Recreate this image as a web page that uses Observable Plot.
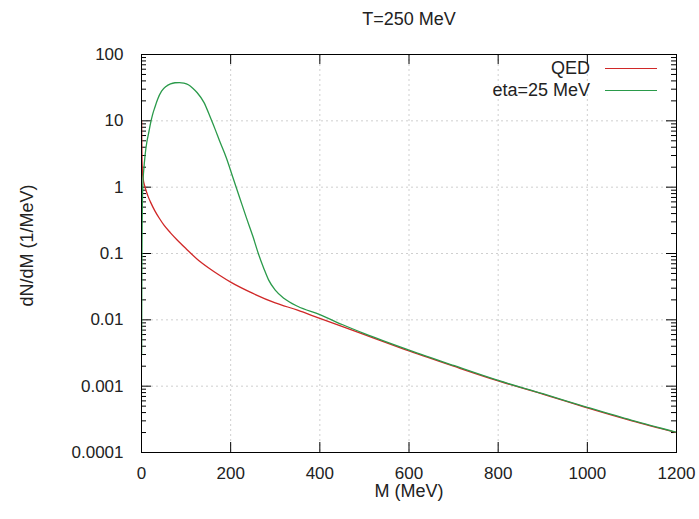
<!DOCTYPE html>
<html>
<head>
<meta charset="utf-8">
<script src="https://cdn.jsdelivr.net/npm/d3@7"></script>
<script src="https://cdn.jsdelivr.net/npm/@observablehq/plot@0.6"></script>
<style>
  html, body { margin: 0; padding: 0; background: #fff; }
  #wrap { position: relative; width: 699px; height: 519px; font-family: "Liberation Sans", Arial, sans-serif; color: #222; }
  #legend { position: absolute; left: 440px; top: 57px; width: 230px; font-size: 18px; }
  .row { position: absolute; left: 0; width: 230px; height: 22px; }
  .row span { position: absolute; right: 80px; top: 0; line-height: 22px; white-space: nowrap; }
  .row i { position: absolute; left: 165px; top: 11px; width: 52px; height: 0; border-top: 1.3px solid; }
</style>
</head>
<body>
<div id="wrap"></div>
<script>
const title = "T=250 MeV";
const xLabel = "M (MeV)";
const yLabel = "dN/dM (1/MeV)";
const seriesNames = ["QED", "eta=25 MeV"];
const seriesColors = ["#d02828", "#2a9a4a"];

const xTicks = [0, 200, 400, 600, 800, 1000, 1200];
const yTicks = [0.0001, 0.001, 0.01, 0.1, 1, 10, 100];
const yTickLabels = ["0.0001", "0.001", "0.01", "0.1", "1", "10", "100"];

// QED curve
const qedM = [0.3, 0.6, 1, 2, 4, 7, 10, 15, 20, 30, 40, 50, 65, 80, 100, 125, 150, 175, 200, 250, 300, 350, 400, 500, 600, 700, 800, 900, 1000, 1100, 1200];
const qedV = [10, 5, 3, 1.8, 1.3, 1.05, 0.9, 0.72, 0.6, 0.44, 0.34, 0.27, 0.205, 0.16, 0.118, 0.082, 0.061, 0.047, 0.037, 0.025, 0.018, 0.014, 0.0105, 0.006, 0.0034, 0.002, 0.0012, 0.00076, 0.00047, 0.0003, 0.0002];

// eta = 25 MeV curve
const etaM = [0.3, 0.6, 1, 1.5, 2, 3, 5, 8, 12, 16, 20, 25, 30, 36, 45, 55, 65, 75, 85, 95, 105, 115, 125, 140, 155, 165, 175, 190, 205, 220, 235, 250, 262, 275, 285, 300, 320, 350, 400, 450, 500, 600, 700, 800, 900, 1000, 1100, 1200];
const etaV = [0.003, 0.02, 0.1, 0.3, 0.6, 1.1, 1.8, 3, 4.8, 6.5, 9, 12.5, 16, 21, 28, 33, 36, 37.5, 37.8, 37, 35, 31, 26.5, 19, 11, 7.5, 5, 2.8, 1.4, 0.7, 0.35, 0.18, 0.1, 0.058, 0.04, 0.028, 0.021, 0.016, 0.012, 0.0085, 0.0062, 0.0035, 0.00205, 0.00122, 0.00077, 0.00048, 0.000305, 0.000202];

const qed = qedM.map((m, i) => ({M: m, v: qedV[i]}));
const eta = etaM.map((m, i) => ({M: m, v: etaV[i]}));

const yMinor = [];
for (let i = 0; i < yTicks.length - 1; i++) for (let k = 2; k <= 9; k++) yMinor.push(yTicks[i] * k);

const W = 699, H = 519, mL = 141, mR = 23, mT = 54, mB = 67;
const fw = W - mL - mR, fh = H - mT - mB;
const major = 10, minor = 5;

const chart = Plot.plot({
  width: W, height: H,
  marginLeft: mL, marginRight: mR, marginTop: mT, marginBottom: mB,
  style: {fontFamily: "Liberation Sans, Arial, sans-serif", fontSize: "17px", color: "#222", background: "#fff"},
  x: {domain: [0, 1200]},
  y: {type: "log", domain: [0.0001, 100]},
  marks: [
    Plot.ruleX(xTicks.slice(1, -1), {x: d => d, stroke: "#cfcfcf", strokeDasharray: "2,3"}),
    Plot.ruleY(yTicks.slice(1, -1), {y: d => d, stroke: "#cfcfcf", strokeDasharray: "2,3"}),
    Plot.axisX({ticks: xTicks, tickSize: 0, tickPadding: 14, label: null, tickFormat: d => String(d)}),
    Plot.axisY({ticks: yTicks, tickSize: 0, tickPadding: 18, label: null, tickFormat: d => yTickLabels[yTicks.indexOf(d)]}),
    Plot.tickX(xTicks, {x: d => d, insetTop: fh - major, stroke: "#000"}),
    Plot.tickX(xTicks, {x: d => d, insetBottom: fh - major, stroke: "#000"}),
    Plot.tickY(yTicks, {y: d => d, insetRight: fw - major, stroke: "#000"}),
    Plot.tickY(yTicks, {y: d => d, insetLeft: fw - major, stroke: "#000"}),
    Plot.tickY(yMinor, {y: d => d, insetRight: fw - minor, stroke: "#000"}),
    Plot.tickY(yMinor, {y: d => d, insetLeft: fw - minor, stroke: "#000"}),
    Plot.line(qed, {x: "M", y: "v", stroke: seriesColors[0], strokeWidth: 1.3, curve: "monotone-x", clip: true}),
    Plot.line(eta, {x: "M", y: "v", stroke: seriesColors[1], strokeWidth: 1.3, curve: "monotone-x", clip: true}),
    Plot.frame({stroke: "#000", strokeWidth: 1}),
    Plot.text([title], {text: d => d, frameAnchor: "top", lineAnchor: "middle", dy: -35, fontSize: 18, fill: "#222"}),
    Plot.text([xLabel], {text: d => d, frameAnchor: "bottom", lineAnchor: "middle", dy: 39, fontSize: 18, fill: "#222"}),
    Plot.text([yLabel], {text: d => d, frameAnchor: "left", textAnchor: "middle", lineAnchor: "middle", dx: -114, dy: -8, rotate: -90, fontSize: 18, fill: "#222"})
  ]
});

const wrap = document.getElementById("wrap");
wrap.appendChild(chart);
const legend = document.createElement("div");
legend.id = "legend";
seriesNames.forEach((name, i) => {
  const row = document.createElement("div");
  row.className = "row";
  row.style.top = (i * 22) + "px";
  const s = document.createElement("span");
  s.textContent = name;
  const l = document.createElement("i");
  l.style.borderTopColor = seriesColors[i];
  row.appendChild(s); row.appendChild(l);
  legend.appendChild(row);
});
wrap.appendChild(legend);
</script>
</body>
</html>
